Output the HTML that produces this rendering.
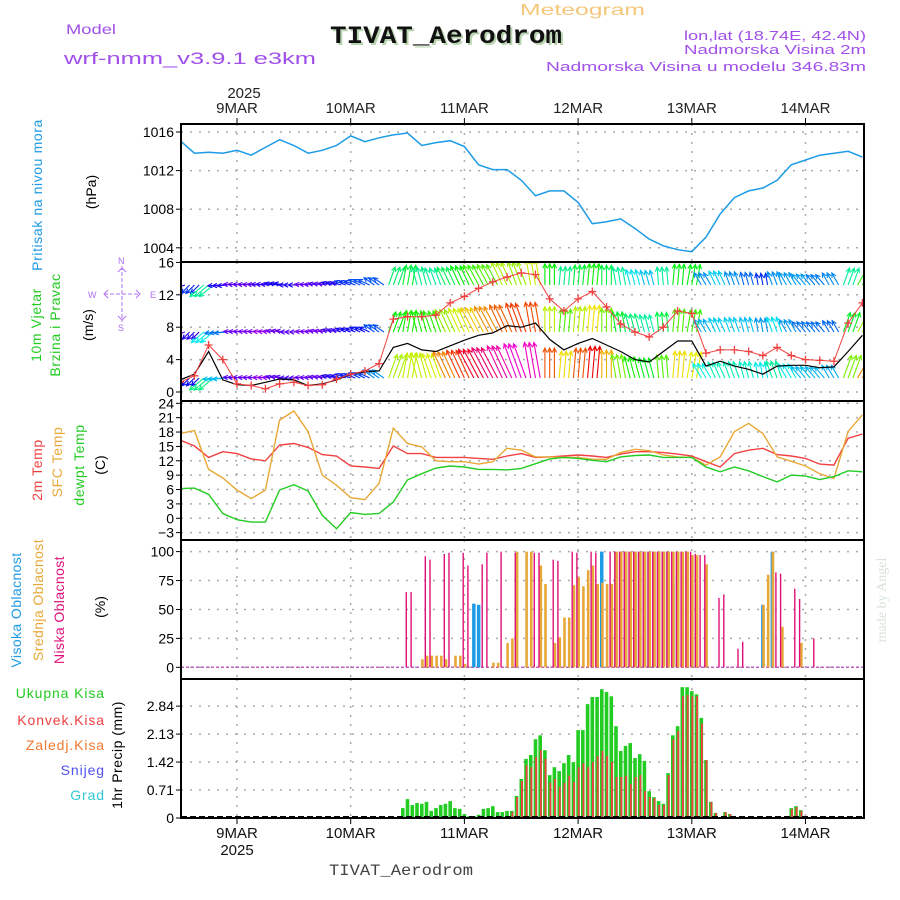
<!DOCTYPE html>
<html><head><meta charset="utf-8"><title>Meteogram TIVAT_Aerodrom</title>
<style>
html,body{margin:0;padding:0;background:#fff;}
svg{display:block;font-family:"Liberation Sans",sans-serif;}
</style></head>
<body>
<svg id="chart" width="900" height="900" viewBox="0 0 900 900" xmlns="http://www.w3.org/2000/svg">
<defs>
<clipPath id="cp1"><rect x="181" y="124" width="683" height="138"/></clipPath>
<clipPath id="cp2"><rect x="181" y="262" width="683" height="139"/></clipPath>
<clipPath id="cp3"><rect x="181" y="401" width="683" height="139"/></clipPath>
<clipPath id="cp4"><rect x="181" y="540" width="683" height="139"/></clipPath>
<clipPath id="cp5"><rect x="181" y="679" width="683" height="139"/></clipPath>
</defs>
<!-- header -->
<text x="520" y="15" font-size="16" fill="#f5c77a" textLength="125" lengthAdjust="spacingAndGlyphs">Meteogram</text>
<text x="332" y="45" font-size="25" font-weight="bold" font-family="Liberation Mono,monospace" fill="#b9d4b0" textLength="232" lengthAdjust="spacingAndGlyphs">TIVAT_Aerodrom</text>
<text x="330" y="43" font-size="25" font-weight="bold" font-family="Liberation Mono,monospace" fill="#111" textLength="232" lengthAdjust="spacingAndGlyphs">TIVAT_Aerodrom</text>
<text x="66" y="34" font-size="14" fill="#a050e8" textLength="50" lengthAdjust="spacingAndGlyphs">Model</text>
<text x="64" y="64" font-size="17" fill="#a050e8" textLength="252" lengthAdjust="spacingAndGlyphs">wrf-nmm_v3.9.1 e3km</text>
<text x="684" y="40" font-size="13" fill="#a050e8" textLength="182" lengthAdjust="spacingAndGlyphs">lon,lat (18.74E, 42.4N)</text>
<text x="684" y="54" font-size="13" fill="#a050e8" textLength="182" lengthAdjust="spacingAndGlyphs">Nadmorska Visina 2m</text>
<text x="546" y="71" font-size="13" fill="#a050e8" textLength="320" lengthAdjust="spacingAndGlyphs">Nadmorska Visina u modelu 346.83m</text>
<text x="244" y="98" font-size="15" fill="#222" text-anchor="middle">2025</text>
<text x="329" y="875" font-size="16" font-family="Liberation Mono,monospace" fill="#444" textLength="144" lengthAdjust="spacingAndGlyphs">TIVAT_Aerodrom</text>
<text x="237" y="855" font-size="15" fill="#111" text-anchor="middle">2025</text>
<text transform="translate(886,600) rotate(-90)" font-size="14" fill="#d8e4d8" text-anchor="middle" font-family="Liberation Serif,serif">made by Angel</text>

<!-- left labels -->
<text transform="translate(42,195) rotate(-90)" font-size="14" fill="#1e9be6" text-anchor="middle" letter-spacing="0.6">Pritisak na nivou mora</text>
<text transform="translate(96,192) rotate(-90)" font-size="14" fill="#000" text-anchor="middle">(hPa)</text>
<text transform="translate(41,325) rotate(-90)" font-size="14" fill="#22cc22" text-anchor="middle" letter-spacing="0.6">10m Vjetar</text>
<text transform="translate(60,325) rotate(-90)" font-size="14" fill="#22cc22" text-anchor="middle" letter-spacing="0.6">Brzina i Pravac</text>
<text transform="translate(93,325) rotate(-90)" font-size="14" fill="#000" text-anchor="middle">(m/s)</text>
<g stroke="#b070f0" fill="none" stroke-width="1">
<line x1="104" y1="294" x2="140" y2="294" stroke-dasharray="4 2"/>
<line x1="122" y1="266" x2="122" y2="322" stroke-dasharray="4 2"/>
<polyline points="108,290 104,294 108,298"/><polyline points="136,290 140,294 136,298"/>
<polyline points="118,272 122,268 126,272"/><polyline points="118,316 122,320 126,316"/>
</g>
<text x="88" y="298" font-size="9" fill="#b070f0">W</text>
<text x="150" y="298" font-size="9" fill="#b070f0">E</text>
<text x="118" y="264" font-size="9" fill="#b070f0">N</text>
<text x="118" y="331" font-size="9" fill="#b070f0">S</text>
<text transform="translate(42,470) rotate(-90)" font-size="14" fill="#f04040" text-anchor="middle" letter-spacing="0.6">2m Temp</text>
<text transform="translate(62,462) rotate(-90)" font-size="14" fill="#e8a838" text-anchor="middle" letter-spacing="0.6">SFC Temp</text>
<text transform="translate(84,465) rotate(-90)" font-size="14" fill="#22cc22" text-anchor="middle" letter-spacing="0.6">dewpt Temp</text>
<text transform="translate(105,465) rotate(-90)" font-size="14" fill="#000" text-anchor="middle">(C)</text>
<text transform="translate(21,610) rotate(-90)" font-size="14" fill="#1e9be6" text-anchor="middle" letter-spacing="0.4">Visoka Oblacnost</text>
<text transform="translate(43,600) rotate(-90)" font-size="14" fill="#e8a838" text-anchor="middle" letter-spacing="0.4">Srednja Oblacnost</text>
<text transform="translate(64,610) rotate(-90)" font-size="14" fill="#e0107a" text-anchor="middle" letter-spacing="0.4">Niska Oblacnost</text>
<text transform="translate(105,607) rotate(-90)" font-size="14" fill="#000" text-anchor="middle">(%)</text>
<text x="105" y="698" font-size="14" fill="#22cc22" text-anchor="end" letter-spacing="0.9">Ukupna Kisa</text>
<text x="105" y="725" font-size="14" fill="#f04040" text-anchor="end" letter-spacing="0.9">Konvek.Kisa</text>
<text x="105" y="750" font-size="14" fill="#f07830" text-anchor="end" letter-spacing="0.9">Zaledj.Kisa</text>
<text x="105" y="775" font-size="14" fill="#5050f0" text-anchor="end" letter-spacing="0.9">Snijeg</text>
<text x="105" y="800" font-size="14" fill="#30c8d0" text-anchor="end" letter-spacing="0.9">Grad</text>
<text transform="translate(122,755) rotate(-90)" font-size="14" fill="#000" text-anchor="middle" letter-spacing="0.5">1hr Precip (mm)</text>

<g id="grid"></g>
<g id="marks"></g>
<g id="frames"></g>
<g id="axes"></g>
</svg>
<script>
// ---------- data (3-hourly, hour 0 = 9 MAR 00UTC) ----------
const T0 = -12, DT = 3;
const pres = [1015.1,1013.8,1013.9,1013.8,1014.1,1013.6,1014.4,1015.2,1014.6,1013.8,1014.1,1014.6,1015.6,1015.0,1015.4,1015.7,1015.9,1014.6,1014.9,1015.1,1014.5,1012.6,1012.1,1012.1,1011.0,1009.4,1009.9,1009.9,1008.7,1006.5,1006.7,1007.0,1006.0,1004.9,1004.2,1003.8,1003.6,1005.1,1007.5,1009.2,1009.9,1010.2,1011.0,1012.6,1013.1,1013.6,1013.8,1014.0,1013.4];
const wspd = [1.5,2.2,5.0,1.5,0.9,0.8,1.2,1.6,1.5,0.8,1.0,1.5,2.2,2.5,2.6,5.5,6.0,5.2,5.0,5.7,6.4,7.0,7.3,8.2,8.0,8.5,6.5,5.2,6.0,6.6,5.8,5.0,4.0,3.7,5.0,6.3,6.3,3.2,3.8,3.2,2.8,2.2,3.2,3.3,3.3,3.0,3.1,5.0,7.0];
const gust = [1.2,2.0,5.8,4.0,1.0,0.8,0.4,1.0,1.2,0.8,0.9,1.6,2.2,2.6,3.5,9.0,9.3,9.3,9.5,11.0,11.8,12.8,13.6,14.2,14.7,14.5,11.5,10.0,11.5,12.4,10.5,8.4,7.4,6.8,8.0,10.0,9.7,4.8,5.2,5.2,5.0,4.5,5.5,4.5,4.0,3.9,3.8,8.5,11.0];
const wdir = [250,225,230,265,275,275,275,280,270,275,280,285,290,295,305,20,10,-15,-20,-25,-25,-28,-28,-25,-20,-10,0,5,5,5,0,-10,-15,-15,-5,5,10,-30,-25,-20,-15,-10,-20,-30,-40,-40,-30,20,30];
const t2m = [16.3,15.1,12.7,13.9,13.5,12.4,12.0,15.3,15.6,14.8,13.3,13.0,10.9,10.7,10.4,15.1,13.5,13.5,12.7,12.7,12.7,12.5,12.3,13.0,13.5,12.7,12.8,13.0,13.2,13.0,12.7,13.4,13.9,13.9,13.7,13.4,13.0,11.8,10.7,13.5,14.2,14.6,13.3,13.0,12.5,11.3,11.1,16.7,17.6];
const tsfc = [17.7,18.3,10.2,8.4,5.9,4.1,5.9,20.5,22.4,18.1,9.0,6.9,4.3,3.9,7.3,18.8,15.6,14.9,12.0,11.8,11.8,11.3,11.8,14.6,14.2,12.8,12.8,12.7,12.7,12.3,12.3,13.7,14.4,14.1,13.2,12.8,12.7,11.1,12.8,18.1,19.8,17.7,12.8,11.9,10.9,9.3,8.3,18.1,21.6];
const tdew = [6.2,6.3,5.0,1.0,-0.3,-0.8,-0.8,5.9,7.0,5.7,0.6,-2.2,1.2,0.8,1.0,3.4,8.0,9.3,10.5,10.9,10.7,10.2,10.2,10.1,10.4,11.4,12.4,12.7,12.5,12.1,11.8,12.8,13.1,13.2,12.7,12.7,12.7,10.7,9.7,10.7,9.9,8.7,7.6,9.0,8.8,8.1,8.7,9.9,9.7];
// hourly cloud cover (%), starting at hour 36
const cloudStart = 36;
const cloudLow = [65,65,0,0,96,93,0,0,98,99, 0,0,99,88,0,0,89,99,0,0, 100,0,0,99,0,0,0,99,99,0, 0,93,92,0,0,100,99,0,0,100, 99,0,0,100,100,100,100,100,100,100, 100,100,100,100,100,100,100,100,100,100, 100,98,97,97,0,0,60,63,0,0, 16,22,0,0,0,0,0,0,82,81, 0,0,68,59,0,0,25,0];
const cloudMid = [0,0,0,7,10,10,10,10,7,0, 10,10,3,0,0,0,0,0,4,4, 0,21,25,100,0,100,100,0,88,72, 0,21,26,43,43,71,78,70,84,88, 72,73,72,72,100,100,100,100,100,100, 100,100,100,100,100,100,100,100,100,100, 97,97,0,89,0,0,0,0,0,0, 0,0,0,0,0,54,80,100,0,35, 0,0,0,21,0,0,0,0];
const cloudHigh = [0,0,0,0,0,0,0,0,0,0, 0,0,0,0,55,54,0,0,0,0, 0,0,0,0,0,0,0,0,0,0, 0,0,0,0,0,0,0,0,0,0, 0,100,0,0,0,100,100,0,100,100, 100,100,100,0,100,100,73,80,0,0, 0,0,0,0,0,0,0,0,0,0, 0,0,0,0,0,54,0,100,0,0, 0,0,0,0,0,0,0,0];
// hourly precipitation (mm), starting at hour 35
const precStart = 35;
const precTot = [.25,.48,.33,.38,.36,.41,.18,.25,.33,.36, .43,.25,.23,.10,.05,.05,.08,.23,.25,.30, .15,.15,.18,.18,.56,.99,1.50,1.60,2.00,2.10, 1.72,1.09,1.29,1.19,1.39,1.60,1.42,2.23,2.23,2.89, 3.07,3.07,3.27,3.20,3.09,2.33,1.70,1.83,1.90,1.52, 1.62,1.45,.68,.53,.43,.36,1.14,2.10,2.33,3.32, 3.32,3.22,3.14,2.54,1.47,.41,.13,0,.15,.10, .02,0,0,0,0,0,0,0,0,0, 0,0,.25,.30,.20];
const precConv = [0,0,0,0,0,0,0,0,0,0, 0,0,0,0,0,0,0,0,0,0, 0,0,0,.15,.53,.94,1.34,1.29,1.55,1.72, 1.50,.89,.99,.79,.89,1.07,.91,1.29,1.39,1.29, 1.42,1.57,1.70,1.57,1.42,1.04,1.04,1.07,.86,1.04, 1.09,.68,.53,.50,.33,.33,1.09,2.00,2.21,3.09, 3.12,3.09,3.09,2.40,1.47,.41,.13,0,.15,.10, 0,0,0,0,0,0,0,0,0,0, 0,0,.23,.28,.18];
const dayLabels = ["9MAR","10MAR","11MAR","12MAR","13MAR","14MAR"];
const presTicks = [1004,1008,1012,1016];
const windTicks = [0,4,8,12,16];
const tempTicks = [-3,0,3,6,9,12,15,18,21,24];
const cloudTicks = [0,25,50,75,100];
const precTicks = [0,0.71,1.42,2.13,2.84];

// ---------- scales ----------
const L = 181, R = 864;
const X = h => 237 + h * 4.7375;
const pY = p => 132 + (1016 - p) * 9.65;
const wY = s => 392 - s * 8.1;
const tY = t => 403.3 + (24 - t) * 4.79;
const cY = v => 667.3 - v * 1.157;
const rY = m => 818 - m * 39.4;
const NS = "http://www.w3.org/2000/svg";
function mk(tag, attrs, parent) {
  const e = document.createElementNS(NS, tag);
  for (const k in attrs) e.setAttribute(k, attrs[k]);
  parent.appendChild(e);
  return e;
}
const grid = document.getElementById('grid');
const marks = document.getElementById('marks');
const frames = document.getElementById('frames');
const axes = document.getElementById('axes');
const panels = [[124,262],[262,401],[401,540],[540,679],[679,818]];

dayLabels.forEach((lab, i) => {
  const x = X(i * 24);
  panels.forEach(p => {
    const g = mk('line', {x1:x, y1:p[0], x2:x, y2:p[1], stroke:'#aaa', 'stroke-width':1.5, 'stroke-dasharray':'2 7'}, grid);
    
    
  });
  const tt = mk('line', {x1:x, y1:118, x2:x, y2:124, stroke:'#000', 'stroke-width':1}, axes);
  
  
  const t1 = mk('text', {x:x, y:113, 'font-size':15, 'text-anchor':'middle', fill:'#222'}, axes);
  t1.textContent = lab;
  
  
  const bt = mk('line', {x1:x, y1:818, x2:x, y2:824, stroke:'#000', 'stroke-width':1}, axes);
  
  
  const t2 = mk('text', {x:x, y:838, 'font-size':15, 'text-anchor':'middle', fill:'#111'}, axes);
  t2.textContent = lab;
  
  
});

function yAxis(ticks, f, fmt, name) {
  ticks.forEach(v => {
    const y = f(v);
    const g = mk('line', {x1:L, y1:y, x2:R, y2:y, stroke:'#aaa', 'stroke-width':1.5, 'stroke-dasharray':'2 7'}, grid);
    
    
    const tk = mk('line', {x1:L - 5, y1:y, x2:L, y2:y, stroke:'#000', 'stroke-width':1}, axes);
    
    
    const t = mk('text', {x:L - 7, y:y + 5, 'font-size':14, 'text-anchor':'end', fill:'#000'}, axes);
    t.textContent = fmt(v);
    
    
  });
}
yAxis(presTicks, pY, v => String(v), 'pressure');
yAxis(windTicks, wY, v => String(v), 'wind');
yAxis(tempTicks, tY, v => v < 0 ? '\u2212' + Math.abs(v) : String(v), 'temp');
yAxis(cloudTicks, cY, v => String(v), 'cloud');
yAxis(precTicks, rY, v => v === 0 ? '0' : v.toFixed(2), 'precip');

panels.forEach(p => {
  const r = mk('rect', {x:L, y:p[0], width:R - L, height:p[1] - p[0], fill:'none', stroke:'#000', 'stroke-width':2}, frames);
  
  
});

function linePath(arr, f) {
  return arr.map((v, i) => (i ? 'L' : 'M') + X(T0 + i * DT).toFixed(1) + ',' + f(v).toFixed(1)).join(' ');
}

// pressure
const g1 = mk('g', {'clip-path':'url(#cp1)'}, marks);
const pl = mk('path', {d:linePath(pres, pY), fill:'none', stroke:'#1e9be6', 'stroke-width':1.5}, g1);



// wind arrows
const g2 = mk('g', {'clip-path':'url(#cp2)'}, marks);
function hueFor(s) { return 285 - s * 23; }
function arrow(x, yb, dir, s, parent) {
  const len = 7 + s * 2.0;
  const a = dir * Math.PI / 180;
  const x2 = x + len * Math.sin(a), y2 = yb - len * Math.cos(a);
  const col = 'hsl(' + hueFor(s) + ',100%,47%)';
  const h1 = a + Math.PI - 0.45, h2 = a + Math.PI + 0.45;
  const d = 'M' + x.toFixed(1) + ',' + yb + ' L' + x2.toFixed(1) + ',' + y2.toFixed(1) +
    ' M' + (x2 + 5 * Math.sin(h1)).toFixed(1) + ',' + (y2 - 5 * Math.cos(h1)).toFixed(1) + ' L' + x2.toFixed(1) + ',' + y2.toFixed(1) +
    ' L' + (x2 + 5 * Math.sin(h2)).toFixed(1) + ',' + (y2 - 5 * Math.cos(h2)).toFixed(1);
  const p = mk('path', {d:d, fill:'none', stroke:col, 'stroke-width':1.1}, parent);
  
  
}
wdir.forEach((d, i) => {
  for (let k = -1; k <= 1; k++) {
    const x = X(T0 + i * DT + k);
    arrow(x, 285, d, wspd[i] * 1.1, g2);
    arrow(x, 332, d, gust[i] * 0.8, g2);
    arrow(x, 378, d, gust[i], g2);
  }
});
const wl = mk('path', {d:linePath(wspd, wY), fill:'none', stroke:'#000', 'stroke-width':1.2}, g2);


const gl = mk('path', {d:linePath(gust, wY), fill:'none', stroke:'#f04040', 'stroke-width':1}, g2);


gust.forEach((v, i) => {
  const x = X(T0 + i * DT), y = wY(v);
  const c = mk('path', {d:'M' + (x - 4) + ',' + y + ' L' + (x + 4) + ',' + y + ' M' + x + ',' + (y - 4) + ' L' + x + ',' + (y + 4), stroke:'#f04040', 'stroke-width':1.3}, g2);
  
  
});

// temperatures
const g3 = mk('g', {'clip-path':'url(#cp3)'}, marks);
const l2 = mk('path', {d:linePath(t2m, tY), fill:'none', stroke:'#f04040', 'stroke-width':1.4}, g3);


const ls = mk('path', {d:linePath(tsfc, tY), fill:'none', stroke:'#e8a838', 'stroke-width':1.4}, g3);


const ld = mk('path', {d:linePath(tdew, tY), fill:'none', stroke:'#22cc22', 'stroke-width':1.4}, g3);



// clouds
const g4 = mk('g', {'clip-path':'url(#cp4)'}, marks);
const base = mk('line', {x1:L, y1:cY(0), x2:R, y2:cY(0), stroke:'#c060c0', 'stroke-width':1.5, 'stroke-dasharray':'3 2'}, g4);


function cloudBars(arr, col, w, off, name) {
  arr.forEach((v, i) => {
    if (v <= 0) return;
    const x = X(cloudStart + i) + off;
    const r = mk('rect', {x:(x - w / 2).toFixed(1), y:cY(v).toFixed(1), width:w, height:(cY(0) - cY(v)).toFixed(1), fill:col}, g4);
    
    
  });
}
cloudBars(cloudHigh, '#1e9be6', 3.5, 0, 'cloud-high-bar');
cloudBars(cloudMid, '#e8a838', 2.6, 0.6, 'cloud-mid-bar');
cloudBars(cloudLow, '#e0107a', 1.4, -1.2, 'cloud-low-bar');

// precipitation
const g5 = mk('g', {'clip-path':'url(#cp5)'}, marks);
precTot.forEach((v, i) => {
  if (v <= 0) return;
  const x = X(precStart + i);
  const r = mk('rect', {x:(x - 1.8).toFixed(1), y:rY(v).toFixed(1), width:3.6, height:(818 - rY(v)).toFixed(1), fill:'#22cc22'}, g5);
  
  
});
precConv.forEach((v, i) => {
  if (v <= 0) return;
  const x = X(precStart + i);
  const r = mk('rect', {x:(x - 0.3).toFixed(1), y:rY(v).toFixed(1), width:1.8, height:(818 - rY(v)).toFixed(1), fill:'#f04040'}, g5);
  
  
});
const zl = mk('line', {x1:L, y1:817, x2:R, y2:817, stroke:'#000', 'stroke-width':2, 'stroke-dasharray':'6 3'}, g5);


</script>
</body></html>
